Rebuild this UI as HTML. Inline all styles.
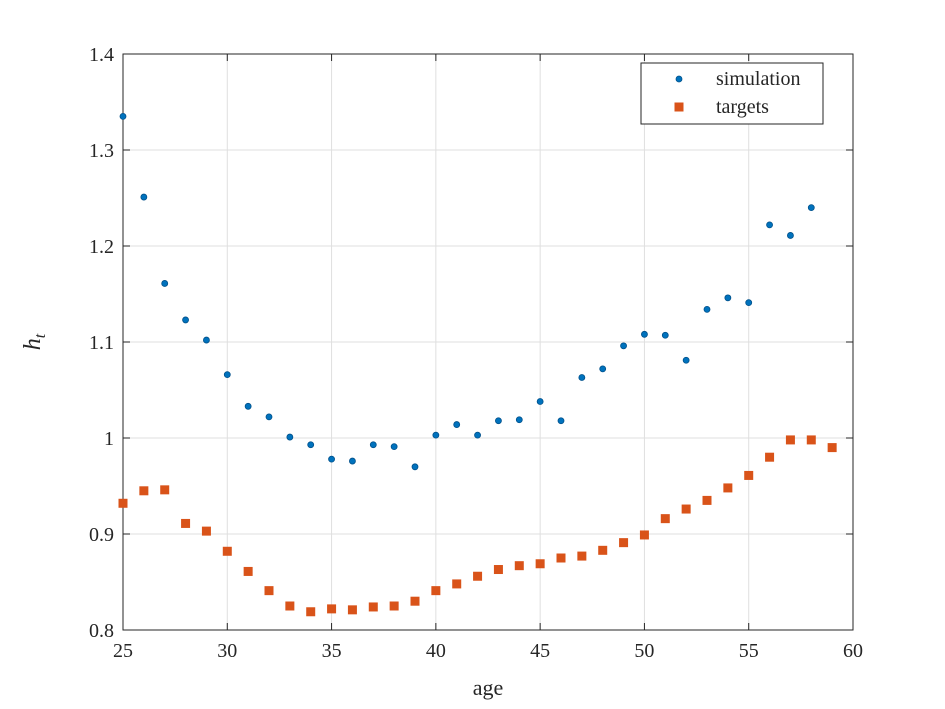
<!DOCTYPE html>
<html><head><meta charset="utf-8"><style>
html,body{margin:0;padding:0;background:#fff;}
svg{display:block;font-family:"Liberation Serif",serif;}
</style></head><body>
<svg id="chart" width="945" height="709" viewBox="0 0 945 709"></svg>
<script>
const ages=[25,26,27,28,29,30,31,32,33,34,35,36,37,38,39,40,41,42,43,44,45,46,47,48,49,50,51,52,53,54,55,56,57,58,59];
const simulation=[1.335,1.251,1.161,1.123,1.102,1.066,1.033,1.022,1.001,0.993,0.978,0.976,0.993,0.991,0.970,1.003,1.014,1.003,1.018,1.019,1.038,1.018,1.063,1.072,1.096,1.108,1.107,1.081,1.134,1.146,1.141,1.222,1.211,1.240];
const targets=[0.932,0.945,0.946,0.911,0.903,0.882,0.861,0.841,0.825,0.819,0.822,0.821,0.824,0.825,0.830,0.841,0.848,0.856,0.863,0.867,0.869,0.875,0.877,0.883,0.891,0.899,0.916,0.926,0.935,0.948,0.961,0.980,0.998,0.998,0.990];
const xTicks=[25,30,35,40,45,50,55,60];
const yTicks=[0.8,0.9,1,1.1,1.2,1.3,1.4];
const yTickLabels=["0.8","0.9","1","1.1","1.2","1.3","1.4"];

const L=123,R=853,T=54,B=630;
const X=v=>L+(v-25)/(60-25)*(R-L);
const Y=v=>B-(v-0.8)/(1.4-0.8)*(B-T);
const NS="http://www.w3.org/2000/svg";
const svg=document.getElementById('chart');
function mk(tag,attrs,parent){const e=document.createElementNS(NS,tag);for(const k in attrs)e.setAttribute(k,attrs[k]);(parent||svg).appendChild(e);return e;}

const grid=mk('g',{});


xTicks.forEach(t=>{mk('line',{x1:X(t),x2:X(t),y1:T,y2:B,stroke:'#dfdfdf','stroke-width':1},grid);});
yTicks.forEach(t=>{mk('line',{x1:L,x2:R,y1:Y(t),y2:Y(t),stroke:'#dfdfdf','stroke-width':1},grid);});

const axes=mk('rect',{x:L,y:T,width:R-L,height:B-T,fill:'none',stroke:'#262626','stroke-width':1});



xTicks.forEach(t=>{
  mk('line',{x1:X(t),x2:X(t),y1:B,y2:B-7,stroke:'#262626'});
  mk('line',{x1:X(t),x2:X(t),y1:T,y2:T+7,stroke:'#262626'});
  const tx=mk('text',{x:X(t),y:B+27,'text-anchor':'middle','font-size':20,fill:'#262626'});
  tx.textContent=t;
  
  
});
yTicks.forEach((t,i)=>{
  mk('line',{x1:L,x2:L+7,y1:Y(t),y2:Y(t),stroke:'#262626'});
  mk('line',{x1:R,x2:R-7,y1:Y(t),y2:Y(t),stroke:'#262626'});
  const tx=mk('text',{x:L-9,y:Y(t)+7,'text-anchor':'end','font-size':20,fill:'#262626'});
  tx.textContent=yTickLabels[i];
  
  
});

const xt=mk('text',{x:(L+R)/2,y:695,'text-anchor':'middle','font-size':22,fill:'#262626'});
xt.textContent='age';


const yt=mk('text',{x:0,y:0,'text-anchor':'middle','font-size':24,'font-style':'italic',fill:'#262626',transform:'translate(40,342) rotate(-90)'});
yt.innerHTML='h<tspan font-size="16" dy="5">t</tspan>';



const sg=mk('g',{});


simulation.forEach((v,i)=>{
  const c=mk('circle',{cx:X(ages[i]),cy:Y(v),r:3,fill:'#0072bd',stroke:'#00508a','stroke-width':0.8},sg);
  
  
});
const tg=mk('g',{});


targets.forEach((v,i)=>{
  const r=mk('rect',{x:X(ages[i])-4.5,y:Y(v)-4.5,width:9,height:9,fill:'#d95319'},tg);
  
  
});

const lg=mk('g',{});


mk('rect',{x:641,y:63,width:182,height:61,fill:'#fff',stroke:'#262626','stroke-width':1},lg);
mk('circle',{cx:679,cy:79,r:3,fill:'#0072bd',stroke:'#00508a','stroke-width':0.8},lg);
mk('rect',{x:674.5,y:102.5,width:9,height:9,fill:'#d95319'},lg);
const l1=mk('text',{x:716,y:85,'font-size':20,fill:'#262626'},lg);l1.textContent='simulation';


const l2=mk('text',{x:716,y:113,'font-size':20,fill:'#262626'},lg);l2.textContent='targets';


</script>
</body></html>
